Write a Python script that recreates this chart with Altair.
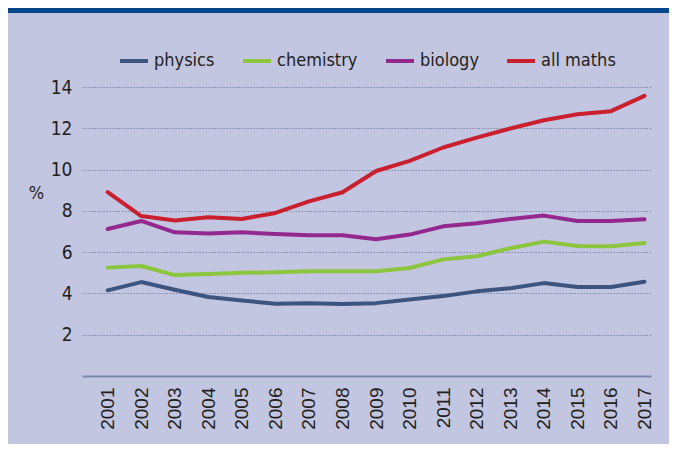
import altair as alt
import pandas as pd

years = list(range(2001, 2018))
physics = [4.15, 4.55, 4.18, 3.83, 3.66, 3.50, 3.53, 3.49, 3.53, 3.71, 3.87, 4.10, 4.25, 4.50, 4.31, 4.31, 4.57]
chemistry = [5.25, 5.33, 4.89, 4.94, 5.00, 5.02, 5.07, 5.08, 5.08, 5.23, 5.65, 5.80, 6.19, 6.51, 6.30, 6.28, 6.44]
biology = [7.12, 7.51, 6.96, 6.90, 6.96, 6.88, 6.82, 6.82, 6.62, 6.85, 7.25, 7.40, 7.61, 7.77, 7.51, 7.51, 7.59]
all_maths = [8.91, 7.75, 7.53, 7.69, 7.61, 7.90, 8.46, 8.90, 9.93, 10.42, 11.07, 11.55, 11.99, 12.39, 12.68, 12.83, 13.57]

series_names = ["physics", "chemistry", "biology", "all maths"]
series_values = [physics, chemistry, biology, all_maths]
series_colors = ["#3c5580", "#8cc63e", "#93288e", "#c91f2f"]
y_ticks = [2, 4, 6, 8, 10, 12, 14]

rows = []
for name, vals in zip(series_names, series_values):
    for yr, v in zip(years, vals):
        rows.append({"year": yr, "value": v, "series": name, "order": series_names.index(name)})
df = pd.DataFrame(rows)

BG = "#c2c6e0"
NARROW = "DejaVu Sans Condensed, sans-serif"

lines = alt.Chart(df).mark_line(strokeWidth=4, strokeCap="round", strokeJoin="round").encode(
    x=alt.X("year:Q",
            scale=alt.Scale(domain=[2000.234, 2017.194], nice=False, zero=False),
            axis=alt.Axis(values=years, format="d", labelAngle=-90, labelPadding=11,
                          labelFont="Liberation Sans", labelFontSize=19, labelColor="#231f20",
                          domain=True, domainColor="#7a88aa", domainWidth=2,
                          ticks=False, grid=False, title=None, labelFlush=False)),
    y=alt.Y("value:Q",
            scale=alt.Scale(domain=[0, 14], nice=False),
            axis=alt.Axis(values=y_ticks, labelPadding=10, labelFont=NARROW, labelFontSize=19,
                          labelColor="#231f20", domain=False, ticks=False,
                          grid=True, gridColor="#7d88aa", gridDash=[1.5, 1.5], gridWidth=1,
                          title="%", titleAngle=0, titleX=-46, titleY=106, titleAlign="center",
                          titleBaseline="middle", titleFont=NARROW, titleFontSize=18,
                          titleFontWeight="normal", titleColor="#231f20")),
    color=alt.Color("series:N",
                    scale=alt.Scale(domain=series_names, range=series_colors),
                    legend=alt.Legend(orient="none", legendX=36, legendY=-42, direction="horizontal",
                                      title=None, symbolType="stroke", symbolSize=784,
                                      symbolStrokeWidth=4, labelFont=NARROW, labelFontSize=18,
                                      labelColor="#231f20", labelOffset=4, columnPadding=20,
                                      labelLimit=200)),
    detail="series:N",
    order="order:Q",
)

band = alt.Chart(alt.Data(values=[{"a": 1}])).mark_rect(color="#03468c").encode(
    x=alt.value(-74), x2=alt.value(600), y=alt.value(-79), y2=alt.value(-74)
)

chart = alt.layer(band, lines).properties(
    width=569, height=289,
    padding={"left": 74, "top": 79, "right": 18, "bottom": 68},
    autosize=alt.AutoSizeParams(type="none"),
    background=BG,
).configure_view(stroke=None, fill=None)

chart.save("out.html", embed_options={"renderer": "svg", "actions": False})
